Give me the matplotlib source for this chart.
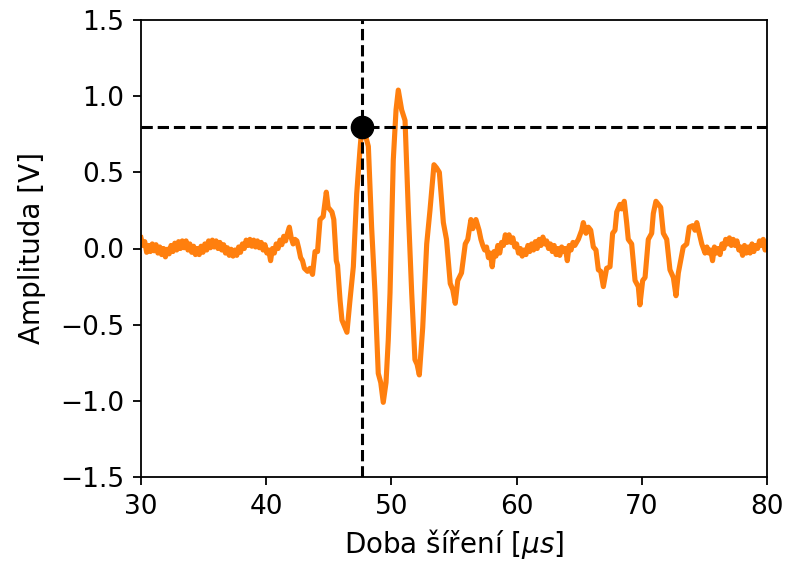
import matplotlib
matplotlib.use("Agg")
import matplotlib.pyplot as plt

# Signal (time in microseconds, amplitude in volts)
time_us = [
    30.00, 30.15, 30.30, 30.45, 30.60, 30.75, 30.90, 31.05, 31.20, 31.35,
    31.50, 31.65, 31.80, 31.95, 32.10, 32.25, 32.40, 32.55, 32.70, 32.85,
    33.00, 33.15, 33.30, 33.45, 33.60, 33.75, 33.90, 34.05, 34.20, 34.35,
    34.50, 34.65, 34.80, 34.95, 35.10, 35.25, 35.40, 35.55, 35.70, 35.85,
    36.00, 36.15, 36.30, 36.45, 36.60, 36.75, 36.90, 37.05, 37.20, 37.35,
    37.50, 37.65, 37.80, 37.95, 38.10, 38.25, 38.40, 38.55, 38.70, 38.85,
    39.00, 39.15, 39.30, 39.45, 39.60, 39.75, 39.90, 40.05, 40.20, 40.35,
    40.50, 40.65, 40.80, 40.95, 41.10, 41.25, 41.40, 41.55, 41.70, 41.85,
    42.00, 42.15, 42.30, 42.45, 42.60, 42.75, 42.90, 43.05, 43.30, 43.50,
    43.70, 43.90, 44.10, 44.30, 44.55, 44.80, 44.95, 45.25, 45.40, 45.60,
    45.70, 45.90, 46.05, 46.20, 46.45, 46.69, 46.96, 47.23, 47.49, 47.70,
    47.97, 48.16, 48.42, 48.69, 48.95, 49.15, 49.35, 49.57, 49.75, 49.89,
    50.15, 50.37, 50.55, 50.82, 51.09, 51.35, 51.62, 51.88, 52.05, 52.23,
    52.50, 52.82, 53.08, 53.40, 53.60, 53.83, 54.15, 54.40, 54.70, 54.90,
    55.10, 55.30, 55.60, 55.90, 56.10, 56.35, 56.50, 56.75, 57.00, 57.15,
    57.30, 57.45, 57.60, 57.75, 57.90, 58.05, 58.20, 58.35, 58.50, 58.65,
    58.80, 58.95, 59.10, 59.25, 59.40, 59.55, 59.70, 59.85, 60.00, 60.15,
    60.30, 60.45, 60.60, 60.75, 60.90, 61.05, 61.20, 61.35, 61.50, 61.65,
    61.80, 61.95, 62.10, 62.25, 62.40, 62.55, 62.70, 62.85, 63.00, 63.15,
    63.30, 63.45, 63.60, 63.75, 63.90, 64.05, 64.20, 64.35, 64.50, 64.65,
    64.93, 65.20, 65.33, 65.54, 65.73, 65.92, 66.13, 66.34, 66.53, 66.72,
    66.93, 67.19, 67.46, 67.67, 67.86, 68.00, 68.26, 68.39, 68.60, 68.79,
    68.92, 69.19, 69.46, 69.72, 69.85, 70.07, 70.26, 70.52, 70.79, 70.92,
    71.13, 71.32, 71.51, 71.72, 71.99, 72.25, 72.52, 72.73, 72.92, 73.31,
    73.59, 73.79, 74.07, 74.25, 74.39, 74.65, 74.79, 75.05, 75.20, 75.35,
    75.50, 75.65, 75.80, 75.95, 76.10, 76.25, 76.40, 76.55, 76.70, 76.85,
    77.00, 77.15, 77.30, 77.45, 77.60, 77.75, 77.90, 78.05, 78.20, 78.35,
    78.50, 78.65, 78.80, 78.95, 79.10, 79.25, 79.40, 79.55, 79.70, 79.85,
    80.00,
]
amplitude_v = [
    0.070, 0.020, 0.045, -0.025, 0.020, -0.020, 0.030, -0.015, 0.025, -0.030,
    0.010, -0.040, 0.000, -0.055, -0.005, -0.035, 0.020, -0.020, 0.035, -0.010,
    0.045, 0.000, 0.050, 0.005, 0.050, -0.010, 0.030, -0.025, 0.015, -0.040,
    0.000, -0.040, 0.015, -0.025, 0.030, -0.010, 0.050, 0.005, 0.055, 0.010,
    0.050, 0.000, 0.040, -0.010, 0.025, -0.030, 0.005, -0.045, -0.005, -0.050,
    -0.010, -0.045, 0.010, -0.025, 0.030, 0.000, 0.055, 0.020, 0.060, 0.015,
    0.055, 0.010, 0.050, 0.005, 0.040, -0.010, 0.025, -0.030, -0.010, -0.080,
    0.000, -0.030, 0.030, 0.000, 0.055, 0.025, 0.080, 0.050, 0.100, 0.140,
    0.070, 0.030, 0.060, 0.050, 0.000, -0.060, -0.080, -0.130, -0.150, -0.130,
    -0.170, -0.020, -0.020, 0.190, 0.210, 0.370, 0.270, 0.240, 0.190, -0.080,
    -0.110, -0.340, -0.470, -0.500, -0.550, -0.340, -0.120, 0.360, 0.650, 0.850,
    0.730, 0.670, 0.140, -0.290, -0.820, -0.880, -1.010, -0.880, -0.600, -0.290,
    0.580, 0.910, 1.040, 0.910, 0.840, 0.250, -0.290, -0.730, -0.760, -0.830,
    -0.520, 0.030, 0.250, 0.550, 0.530, 0.500, 0.170, 0.060, -0.230, -0.270,
    -0.360, -0.210, -0.160, 0.030, 0.060, 0.190, 0.130, 0.190, 0.120, 0.060,
    0.020, -0.010, 0.010, -0.060, -0.030, -0.120, -0.020, -0.050, 0.020, -0.030,
    0.040, 0.020, 0.090, 0.040, 0.090, 0.040, 0.070, 0.010, 0.030, -0.030,
    0.000, -0.050, -0.010, -0.040, 0.020, -0.020, 0.030, -0.010, 0.045, 0.000,
    0.060, 0.020, 0.075, 0.030, 0.050, 0.000, 0.030, -0.020, 0.020, -0.040,
    0.000, -0.045, 0.010, -0.020, 0.000, -0.080, 0.020, -0.010, 0.040, 0.020,
    0.060, 0.120, 0.170, 0.100, 0.140, 0.120, 0.010, -0.010, -0.140, -0.150,
    -0.250, -0.130, -0.120, 0.100, 0.120, 0.240, 0.290, 0.260, 0.310, 0.170,
    0.060, 0.030, -0.210, -0.250, -0.370, -0.210, -0.190, 0.060, 0.100, 0.230,
    0.310, 0.290, 0.270, 0.100, 0.060, -0.140, -0.190, -0.310, -0.160, 0.010,
    0.030, 0.140, 0.150, 0.120, 0.170, 0.080, 0.030, -0.030, 0.010, -0.030,
    -0.010, -0.080, 0.010, -0.030, 0.000, -0.040, 0.030, 0.000, 0.060, 0.030,
    0.070, 0.020, 0.060, 0.020, 0.050, -0.010, 0.010, -0.045, 0.020, -0.030,
    0.010, -0.030, 0.030, -0.020, 0.020, 0.000, 0.050, 0.020, 0.060, -0.010,
    0.040,
]

# Selected point (crosshair)
marker_t = 47.65
marker_a = 0.80

x_ticks = [30, 40, 50, 60, 70, 80]
y_ticks = [-1.5, -1.0, -0.5, 0.0, 0.5, 1.0, 1.5]

fig = plt.figure(figsize=(7.85, 5.65), dpi=100)
ax = fig.add_axes([141 / 785, 1 - 477 / 565, 626 / 785, 457 / 565])

ax.plot(time_us, amplitude_v, color="#ff7f0e", lw=3.7, zorder=2)
ax.axvline(marker_t, color="black", ls="--", lw=2.2, zorder=3)
ax.axhline(marker_a, color="black", ls="--", lw=2.2, zorder=3)
ax.plot([marker_t], [marker_a], "o", color="black", ms=16, zorder=4)

ax.set_xlim(30, 80)
ax.set_ylim(-1.5, 1.5)
ax.set_xticks(x_ticks)
ax.set_yticks(y_ticks)
ax.tick_params(labelsize=19, length=6, width=1.3, pad=6)
for s in ax.spines.values():
    s.set_linewidth(1.3)

ax.set_xlabel(r"Doba šíření [$\mu s$]", fontsize=20, labelpad=5)
ax.set_ylabel("Amplituda [V]", fontsize=20, labelpad=10)

fig.savefig("out.png", dpi=100)
